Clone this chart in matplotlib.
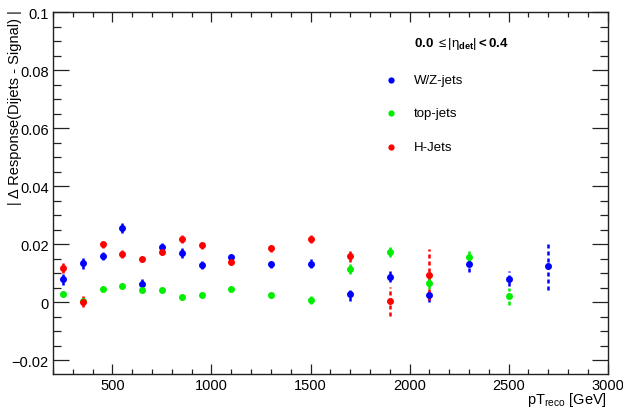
import matplotlib
matplotlib.use("Agg")
import matplotlib.pyplot as plt
import numpy as np
from matplotlib.ticker import FixedLocator, MultipleLocator, FixedFormatter

plt.rcParams['font.family'] = ['Liberation Sans', 'DejaVu Sans']
plt.rcParams['mathtext.fontset'] = 'custom'
plt.rcParams['mathtext.rm'] = 'Liberation Sans'
plt.rcParams['mathtext.it'] = 'Liberation Sans'
plt.rcParams['mathtext.bf'] = 'Liberation Sans:bold'

# ---- data ----
wz_x = [250, 350, 450, 550, 650, 750, 850, 950, 1100, 1300, 1500, 1700, 1900, 2100, 2300, 2500, 2700]
wz_y = [0.0079, 0.0134, 0.0159, 0.0256, 0.0062, 0.0191, 0.0169, 0.0128, 0.0156, 0.0130, 0.0132,
        0.0028, 0.0088, 0.0025, 0.0130, 0.0081, 0.0125]
wz_e = [0.0021, 0.0020, 0.0014, 0.0018, 0.0017, 0.0014, 0.0016, 0.0014, 0.0012, 0.0013, 0.0015,
        0.0024, 0.0020, 0.0024, 0.0025, 0.0027, 0.0084]

top_x = [250, 350, 450, 550, 650, 750, 850, 950, 1100, 1300, 1500, 1700, 1900, 2100, 2300, 2500]
top_y = [0.0028, 0.0005, 0.0045, 0.0055, 0.0041, 0.0042, 0.0016, 0.0025, 0.0046, 0.0023, 0.0007,
         0.0114, 0.0172, 0.0065, 0.0157, 0.0020]
top_e = [0.0011, 0.0010, 0.0008, 0.0008, 0.0008, 0.0008, 0.0008, 0.0008, 0.0008, 0.0008, 0.0013,
         0.0017, 0.0017, 0.0020, 0.0020, 0.0029]

h_x = [250, 350, 450, 550, 650, 750, 850, 950, 1100, 1300, 1500, 1700, 1900, 2100]
h_y = [0.0118, 0.0001, 0.0199, 0.0166, 0.0148, 0.0173, 0.0216, 0.0196, 0.0137, 0.0186, 0.0217,
       0.0158, 0.0003, 0.0095]
h_e = [0.0018, 0.0019, 0.0013, 0.0013, 0.0010, 0.0010, 0.0014, 0.0012, 0.0010, 0.0012, 0.0013,
       0.0020, 0.0050, 0.0087]

y_ticks = [-0.02, 0.0, 0.02, 0.04, 0.06, 0.08, 0.1]
y_ticklabels = ['\u22120.02', '0', '0.02', '0.04', '0.06', '0.08', '0.1']
x_ticks = [500, 1000, 1500, 2000, 2500, 3000]
x_ticklabels = ['500', '1000', '1500', '2000', '2500', '3000']

series = [
    (wz_x, wz_y, wz_e, '#0000ff', 'W/Z-jets'),
    (top_x, top_y, top_e, '#00ee00', 'top-jets'),
    (h_x, h_y, h_e, '#ff0000', 'H-Jets'),
]

fig = plt.figure(figsize=(6.23, 4.10), dpi=100)
ax = fig.add_axes([53/623, 1 - 375/410, (607.7 - 53)/623, (375 - 13)/410])

for xs, ys, es, col, lab in series:
    xs_a = np.array(xs); ys_a = np.array(ys); es_a = np.array(es)
    ax.vlines(xs_a, ys_a - es_a, ys_a + es_a, colors=col, linewidth=1.8,
              linestyles=(0, (1.6, 1.2)), zorder=2)
    ax.plot(xs, ys, 'o', color=col, markersize=5, markeredgewidth=0, zorder=3)

ax.set_xlim(200, 3000)
ax.set_ylim(-0.0248, 0.1)

ax.xaxis.set_major_locator(FixedLocator(x_ticks))
ax.xaxis.set_major_formatter(FixedFormatter(x_ticklabels))
ax.xaxis.set_minor_locator(MultipleLocator(100))
ax.yaxis.set_major_locator(FixedLocator(y_ticks))
ax.yaxis.set_major_formatter(FixedFormatter(y_ticklabels))
ax.yaxis.set_minor_locator(MultipleLocator(0.005))

ax.tick_params(axis='both', which='both', direction='in', top=True, right=True,
               labelsize=10.5, color='#222222', width=0.9)
ax.tick_params(axis='x', which='major', length=7.2, pad=3)
ax.tick_params(axis='x', which='minor', length=3.4)
ax.tick_params(axis='y', which='major', length=11.5, pad=3)
ax.tick_params(axis='y', which='minor', length=6)
for sp in ax.spines.values():
    sp.set_linewidth(1.0)
    sp.set_color('#222222')

fig.text(15/623, 1 - 10/410, '| \u0394 Response(Dijets - Signal) |', rotation=90,
         ha='center', va='top', fontsize=10.5)
fig.text(607/623, 1 - 400/410, r'pT$_{\rm reco}$ [GeV]', ha='right', va='center', fontsize=10.5)

# legend
fig.text(414/623, 1 - 44/410, r'$\mathbf{0.0}\ \leq|\eta_{\mathbf{det}}|\mathbf{<0.4}$',
         ha='left', va='center', fontsize=9.5)
for i, (xs, ys, es, col, lab) in enumerate(series):
    yy = 1 - (81 + i * 33.3) / 410
    fig.lines.append(plt.Line2D([390.7/623], [yy], marker='o', color=col, markersize=4.5,
                                markeredgewidth=0, transform=fig.transFigure))
    fig.text(414/623, yy, lab, ha='left', va='center', fontsize=9.5)

fig.savefig('out.png', dpi=100)
